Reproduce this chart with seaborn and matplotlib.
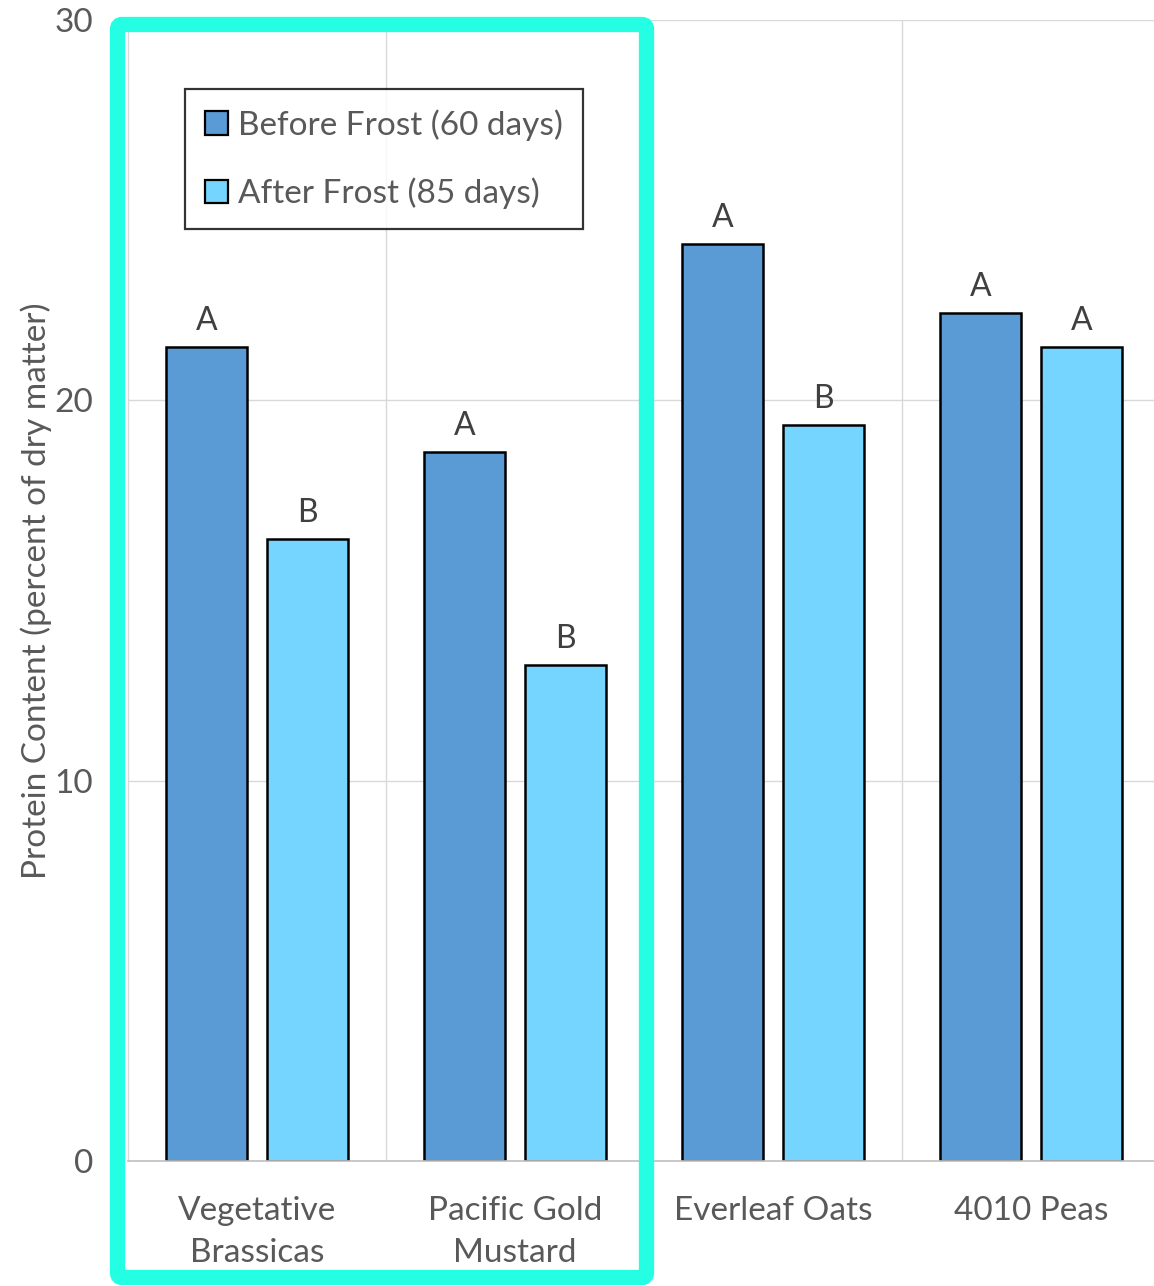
import matplotlib
matplotlib.use("Agg")
import matplotlib.pyplot as plt
import seaborn as sns
import pandas as pd
from matplotlib.patches import FancyBboxPatch, Patch

categories = ["Vegetative\nBrassicas", "Pacific Gold\nMustard", "Everleaf Oats", "4010 Peas"]
series_names = ["Before Frost (60 days)", "After Frost (85 days)"]
before_vals = [21.4, 18.65, 24.1, 22.3]
after_vals = [16.35, 13.05, 19.35, 21.4]
before_letters = ["A", "A", "A", "A"]
after_letters = ["B", "B", "B", "A"]
y_ticks = [0, 10, 20, 30]

colors = ["#5B9BD5", "#75D5FF"]
text_color = "#595959"

sns.set_theme(style="white")
plt.rcParams['font.family'] = ['Lato', 'DejaVu Sans']

df = pd.DataFrame({
    "Category": categories * 2,
    "Period": [series_names[0]] * 4 + [series_names[1]] * 4,
    "Protein": before_vals + after_vals,
})

fig = plt.figure(figsize=(11.54, 12.86), dpi=100)
ax = fig.add_axes([128/1154, 1 - 1161/1286, 1032/1154, 1141/1286])

sns.barplot(data=df, x="Category", y="Protein", hue="Period", palette=colors,
            order=categories, hue_order=series_names, width=0.78, gap=0.2,
            saturation=1, edgecolor="black", linewidth=1.8, ax=ax, errorbar=None)

for cont, labs in zip(ax.containers, [before_letters, after_letters]):
    ax.bar_label(cont, labels=labs, padding=8, fontsize=23, color="#404040")

ax.set_ylim(0, 30)
ax.set_xlim(-0.5, 3.5)
ax.set_yticks(y_ticks)
ax.set_yticklabels([str(t) for t in y_ticks])
ax.tick_params(axis='y', length=0, pad=25, labelsize=24, labelcolor=text_color)
ax.tick_params(axis='x', length=0, pad=25, labelsize=24, labelcolor=text_color)
for lbl in ax.get_xticklabels():
    lbl.set_linespacing(1.52)
ax.set_xlabel("")
ax.set_ylabel("Protein Content (percent of dry matter)", fontsize=24, color=text_color, labelpad=2)

ax.set_axisbelow(True)
for y in [10, 20, 30]:
    ax.axhline(y, color="#D9D9D9", lw=1, zorder=0)
for x in [0.5, 1.5, 2.5]:
    ax.axvline(x, color="#D9D9D9", lw=1, zorder=0)

for s in ["top", "right"]:
    ax.spines[s].set_visible(False)
ax.spines["left"].set_color("#D9D9D9")
ax.spines["left"].set_linewidth(1)
ax.spines["bottom"].set_color("#BFBFBF")
ax.spines["bottom"].set_linewidth(1.2)

handles = [Patch(facecolor=c, edgecolor="black", linewidth=1.6) for c in colors]
leg = ax.legend(handles, series_names, loc="upper left",
                bbox_to_anchor=(57/1032, 1 - 69/1141), borderaxespad=0,
                fontsize=24, frameon=True, fancybox=False, edgecolor="black",
                handlelength=0.7, handleheight=0.7, handletextpad=0.3,
                labelspacing=1.1, borderpad=0.6, labelcolor=text_color)
leg.get_frame().set_linewidth(1.6)

rect = FancyBboxPatch((117.5/1154, 1 - 1277.5/1286), (646.5 - 117.5)/1154, (1277.5 - 24.5)/1286,
                      boxstyle="round,pad=0,rounding_size=0.004", transform=fig.transFigure,
                      fill=False, edgecolor="#24FFE4", linewidth=11, zorder=10)
fig.patches.append(rect)

fig.savefig("out.png", dpi=100)
